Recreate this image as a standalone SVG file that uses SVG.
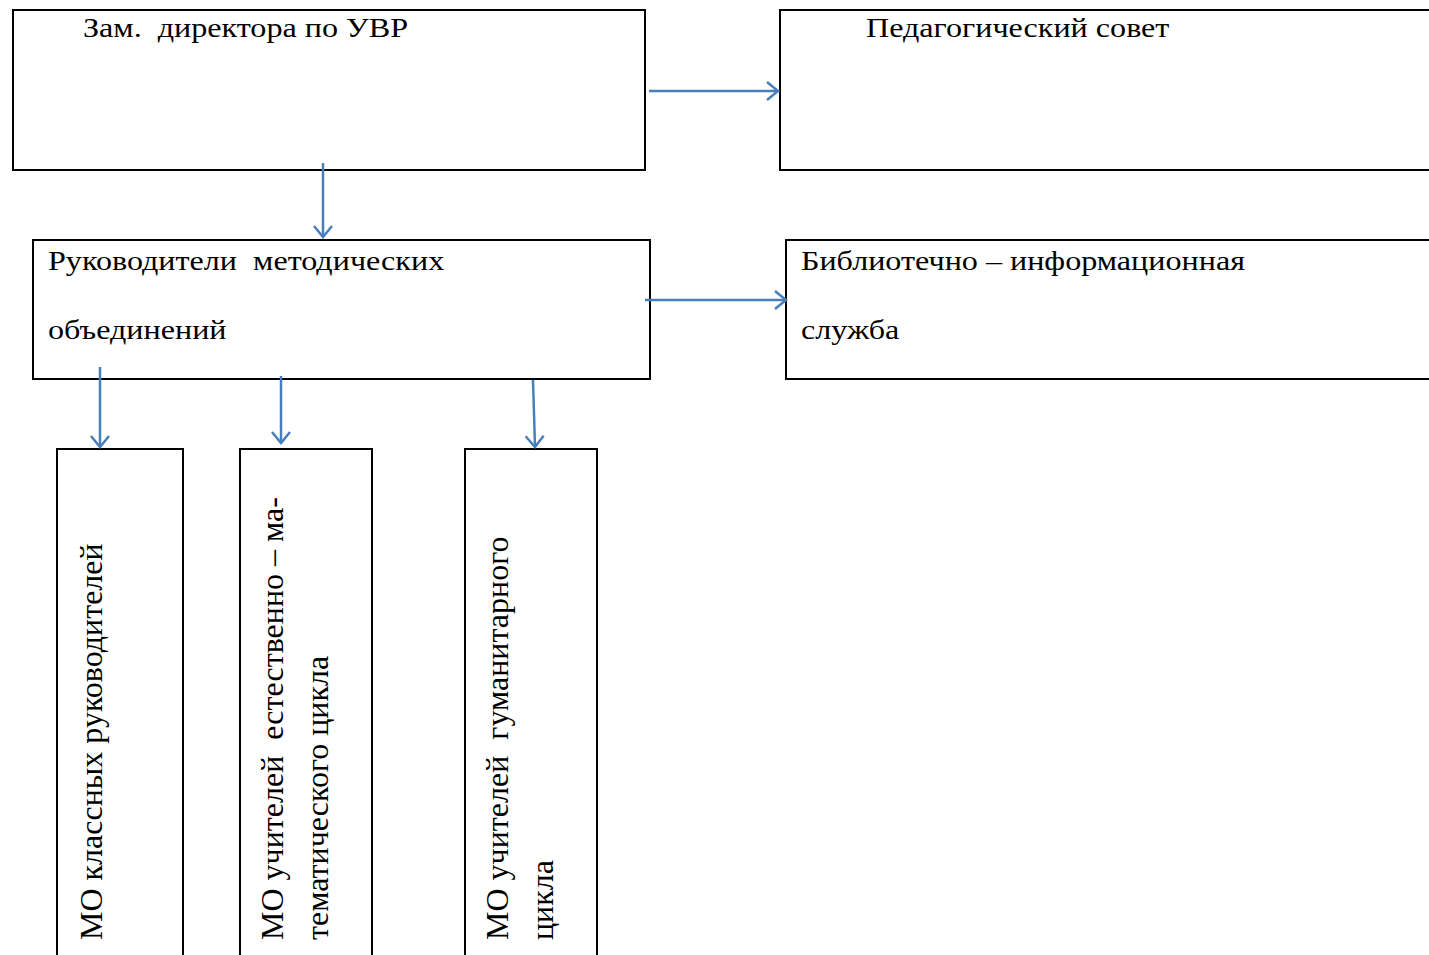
<svg xmlns="http://www.w3.org/2000/svg" width="1429" height="955" viewBox="0 0 1429 955">
<style>
.box{fill:#fff;stroke:#000;stroke-width:2}
.t{font-family:"Liberation Serif","Times New Roman",serif;font-size:27px;fill:#000}
.v{font-family:"Liberation Serif","Times New Roman",serif;font-size:32px;fill:#000}
.c{stroke:#4A7EBB;stroke-width:2.5;fill:none;marker-end:url(#ah)}
</style>
<defs>
<marker id="ah" markerUnits="userSpaceOnUse" markerWidth="24" markerHeight="24" refX="12" refY="10" orient="auto" viewBox="0 0 24 20">
<path d="M1,1 L12,10 L1,19" fill="none" stroke="#4A7EBB" stroke-width="2.5"/>
</marker>
</defs>
<g id="n1"><rect class="box" x="13" y="10" width="632" height="160"/><text class="t" transform="translate(83,37) scale(1.19,1)" xml:space="preserve">Зам.  директора по УВР</text></g>
<g id="n2"><rect class="box" x="780" y="10" width="660" height="160"/><text class="t" transform="translate(866,37) scale(1.19,1)">Педагогический совет</text></g>
<g id="n3"><rect class="box" x="33" y="240" width="617" height="139"/><text class="t" transform="translate(48,270) scale(1.19,1)" xml:space="preserve">Руководители  методических</text><text class="t" transform="translate(48,339) scale(1.19,1)">объединений</text></g>
<g id="n4"><rect class="box" x="786" y="240" width="660" height="139"/><text class="t" transform="translate(801,270) scale(1.19,1)">Библиотечно – информационная</text><text class="t" transform="translate(801,339) scale(1.19,1)">служба</text></g>
<g id="n5"><rect class="box" x="57" y="449" width="126" height="520"/><text class="v" transform="translate(102,940) rotate(-90)">МО классных руководителей</text></g>
<g id="n6"><rect class="box" x="240" y="449" width="132" height="520"/><text class="v" transform="translate(283,940) rotate(-90)" xml:space="preserve">МО учителей  естественно – ма-</text><text class="v" transform="translate(328,940) rotate(-90)">тематического цикла</text></g>
<g id="n7"><rect class="box" x="465" y="449" width="132" height="520"/><text class="v" transform="translate(508,940) rotate(-90)" xml:space="preserve">МО учителей  гуманитарного</text><text class="v" transform="translate(553,940) rotate(-90)">цикла</text></g>
<g id="connectors">
<line class="c" x1="649" y1="91" x2="778" y2="91"/>
<line class="c" x1="323" y1="163" x2="323" y2="237"/>
<line class="c" x1="645" y1="300" x2="786" y2="300"/>
<line class="c" x1="100" y1="367" x2="100" y2="447"/>
<line class="c" x1="281" y1="376" x2="281" y2="443"/>
<line class="c" x1="533" y1="380" x2="535" y2="447"/>
</g>
</svg>
